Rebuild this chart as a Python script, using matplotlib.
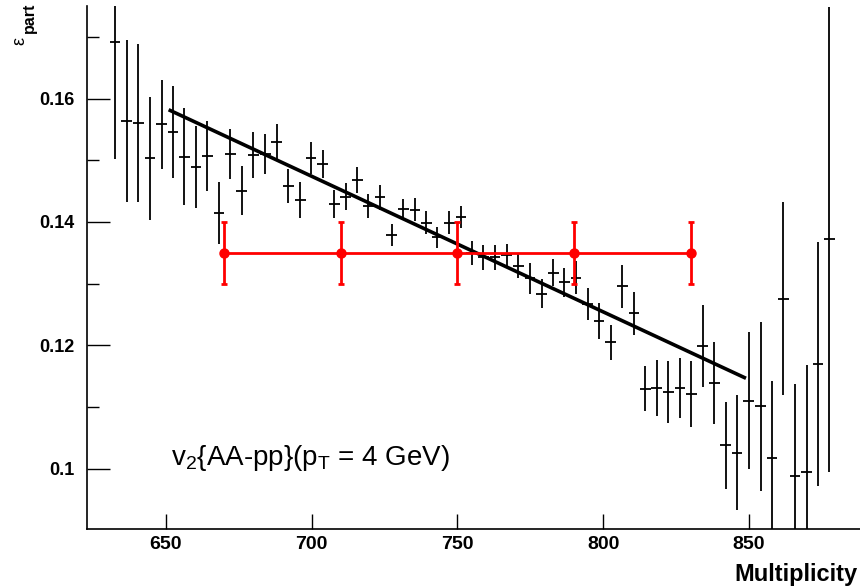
import matplotlib
matplotlib.use("Agg")
import matplotlib.pyplot as plt
import numpy as np

plt.rcParams['font.family'] = ['Liberation Sans', 'DejaVu Sans']
plt.rcParams['mathtext.fontset'] = 'custom'
plt.rcParams['mathtext.rm'] = 'Liberation Sans'
plt.rcParams['mathtext.bf'] = 'Liberation Sans:bold'

# ---- data: black histogram points (multiplicity bin centre, eps_part, error) ----
mult = [632.6, 636.6, 640.6, 644.6, 648.6, 652.5, 656.4, 660.4, 664.3, 668.3,
        672.2, 676.1, 680.0, 684.1, 688.1, 692.0, 696.1, 699.8, 703.8, 707.8,
        711.7, 715.7, 719.5, 723.5, 727.5, 731.5, 735.5, 739.3, 743.1, 747.3,
        751.3, 754.9, 758.9, 762.9, 766.9, 770.9, 774.9, 778.9, 782.9, 786.7,
        790.7, 794.7, 798.6, 802.6, 806.6, 810.6, 814.5, 818.4, 822.4, 826.4,
        830.2, 834.2, 838.1, 842.0, 845.9, 849.9, 854.1, 857.9, 861.8, 865.8,
        869.8, 873.7, 877.6]
eps = [0.1692, 0.1564, 0.1561, 0.1503, 0.1558, 0.1546, 0.1506, 0.1489, 0.1507, 0.1414,
       0.1510, 0.1451, 0.1509, 0.1510, 0.1529, 0.1458, 0.1436, 0.1503, 0.1494, 0.1429,
       0.1441, 0.1468, 0.1426, 0.1440, 0.1379, 0.1421, 0.1420, 0.1399, 0.1375, 0.1399,
       0.1408, 0.1350, 0.1343, 0.1343, 0.1347, 0.1329, 0.1309, 0.1284, 0.1318, 0.1302,
       0.1310, 0.1267, 0.1239, 0.1205, 0.1296, 0.1252, 0.1130, 0.1131, 0.1124, 0.1131,
       0.1121, 0.1199, 0.1139, 0.1038, 0.1026, 0.1110, 0.1101, 0.1017, 0.1276, 0.0988,
       0.0995, 0.1170, 0.1372]
eps_err = [0.0190, 0.0131, 0.0128, 0.0100, 0.0072, 0.0074, 0.0078, 0.0066, 0.0057, 0.0050,
           0.0041, 0.0040, 0.0037, 0.0032, 0.0029, 0.0028, 0.0029, 0.0026, 0.0022, 0.0023,
           0.0022, 0.0021, 0.0020, 0.0020, 0.0018, 0.0016, 0.0019, 0.0018, 0.0017, 0.0018,
           0.0018, 0.0019, 0.0020, 0.0020, 0.0018, 0.0020, 0.0025, 0.0024, 0.0022, 0.0024,
           0.0026, 0.0026, 0.0029, 0.0028, 0.0035, 0.0035, 0.0037, 0.0045, 0.0050, 0.0049,
           0.0054, 0.0066, 0.0067, 0.0071, 0.0093, 0.0111, 0.0137, 0.0125, 0.0157, 0.0149,
           0.0173, 0.0198, 0.0377]
bin_half = 1.85

# ---- red graph ----
red_x = [670, 710, 750, 790, 830]
red_y = [0.135, 0.135, 0.135, 0.135, 0.135]
red_err = [0.005, 0.005, 0.005, 0.005, 0.005]

# ---- linear fit: eps = p0 + p1 * mult over fit range ----
fit_p0 = 0.30128
fit_p1 = -2.198e-4
fit_range = [651.0, 849.0]

xticks = [650, 700, 750, 800, 850]
yticks = [0.10, 0.12, 0.14, 0.16]
ytick_labels = ['0.1', '0.12', '0.14', '0.16']
yminor = [0.11, 0.13, 0.15, 0.17]

W, H = 860, 588
fig = plt.figure(figsize=(W / 100, H / 100), dpi=100)
left, right, top, bottom = 86.7, 860, 6, 529.3
ax = fig.add_axes([left / W, 1 - bottom / H, (right - left) / W, (bottom - top) / H])

ax.errorbar(mult, eps, yerr=eps_err, xerr=bin_half, fmt='none', ecolor='black',
            elinewidth=1.3, capsize=0, zorder=2)

fx = np.array(fit_range)
ax.plot(fx, fit_p0 + fit_p1 * fx, color='black', lw=2.6, solid_capstyle='butt', zorder=3)

ax.errorbar(red_x, red_y, yerr=red_err, fmt='-o', color='#ff0000', lw=2.0, ms=6.5,
            elinewidth=2.0, capsize=2.5, capthick=2.0, zorder=4)

ax.set_xlim(622.9, 888.1)
ax.set_ylim(0.0902, 0.1750)

for s in ['top', 'right']:
    ax.spines[s].set_visible(False)
for s in ['left', 'bottom']:
    ax.spines[s].set_linewidth(1.2)

ax.set_xticks(xticks)
ax.set_xticklabels([str(t) for t in xticks], fontsize=14, fontweight='bold')
ax.set_yticks(yticks)
ax.set_yticklabels(ytick_labels, fontsize=13, fontweight='bold')
ax.set_yticks(yminor, minor=True)
ax.tick_params(axis='x', which='major', direction='in', length=10.8, width=1.0, pad=5)
ax.tick_params(axis='y', which='major', direction='in', length=16.5, width=1.0, pad=9)
ax.tick_params(axis='y', which='minor', direction='in', length=8.5, width=1.0)

fig.text(857 / W, 1 - 574 / H, 'Multiplicity', ha='right', va='center',
         fontsize=17, fontweight='bold')
# y-axis title: epsilon with bold subscript "part", rotated
fig.text(20 / W, 1 - 41 / H, 'ε', ha='center', va='center', rotation=90, fontsize=13)
fig.text(29 / W, 1 - 18 / H, 'part', ha='center', va='center', rotation=90,
         fontsize=11.5, fontweight='bold')

fig.text(171 / W, 1 - 465 / H, r'v$_\mathregular{2}${AA-pp}(p$_\mathregular{T}$ = 4 GeV)',
         ha='left', va='baseline', fontsize=20)

fig.savefig('out.png', dpi=100)
